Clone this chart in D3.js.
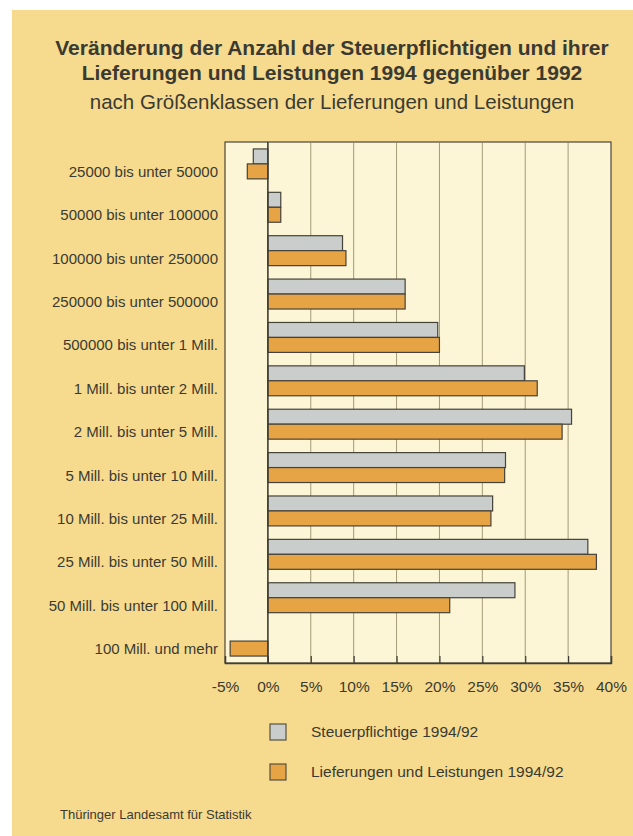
<!DOCTYPE html>
<html>
<head>
<meta charset="utf-8">
<script src="https://cdn.jsdelivr.net/npm/d3@7"></script>
<style>
  body { margin: 0; background: #fff; }
  svg { display: block; font-family: "Liberation Sans", Arial, sans-serif; }
</style>
</head>
<body>
<div id="chart"></div>
<script>
// size classes (top to bottom)
var classes = [
  "25000 bis unter 50000",
  "50000 bis unter 100000",
  "100000 bis unter 250000",
  "250000 bis unter 500000",
  "500000 bis unter 1 Mill.",
  "1 Mill. bis unter 2 Mill.",
  "2 Mill. bis unter 5 Mill.",
  "5 Mill. bis unter 10 Mill.",
  "10 Mill. bis unter 25 Mill.",
  "25 Mill. bis unter 50 Mill.",
  "50 Mill. bis unter 100 Mill.",
  "100 Mill. und mehr"
];
// change in percent, 1994 vs 1992
var steuerpflichtige = [-1.7, 1.5, 8.7, 16.0, 19.8, 29.9, 35.4, 27.7, 26.2, 37.3, 28.8, 0];
var lieferungen = [-2.4, 1.5, 9.1, 16.0, 20.0, 31.4, 34.3, 27.6, 26.0, 38.3, 21.2, -4.4];
var xTicks = [-5, 0, 5, 10, 15, 20, 25, 30, 35, 40];
var seriesNames = ["Steuerpflichtige 1994/92", "Lieferungen und Leistungen 1994/92"];

var colors = ["#c9cdcc", "#e6a444"];
var W = 633, H = 836;
var ink = "#3b3a32";

var svg = d3.select("#chart").append("svg")
  .attr("width", W).attr("height", H);

// scanned page background
svg.append("rect").attr("x", 0).attr("y", 0).attr("width", W).attr("height", H).attr("fill", "#fff");
svg.append("rect").attr("x", 12).attr("y", 10).attr("width", W - 12).attr("height", H - 10)
  .attr("fill", "#f6da8e");

// titles
svg.append("text").attr("x", 332).attr("y", 55).attr("text-anchor", "middle")
  .attr("font-size", 21).attr("font-weight", "bold").attr("fill", ink)
  .text("Veränderung der Anzahl der Steuerpflichtigen und ihrer");
svg.append("text").attr("x", 332).attr("y", 80).attr("text-anchor", "middle")
  .attr("font-size", 21).attr("font-weight", "bold").attr("fill", ink)
  .text("Lieferungen und Leistungen 1994 gegenüber 1992");
svg.append("text").attr("x", 332).attr("y", 109).attr("text-anchor", "middle")
  .attr("font-size", 20.5).attr("fill", ink)
  .text("nach Größenklassen der Lieferungen und Leistungen");

var plotLeft = 225, plotRight = 611, plotTop = 142, plotBottom = 663;

var x = d3.scaleLinear().domain([-5, 40]).range([plotLeft, plotRight]);
var y = d3.scaleBand().domain(classes).range([plotTop, plotBottom]).paddingInner(0.31).paddingOuter(0.16);
var sub = d3.scaleBand().domain([0, 1]).range([0, y.bandwidth()]);

// plot area
svg.append("rect").attr("x", plotLeft).attr("y", plotTop)
  .attr("width", plotRight - plotLeft).attr("height", plotBottom - plotTop)
  .attr("fill", "#fcf6d6").attr("stroke", "#4a473b").attr("stroke-width", 1.2);

// grid
svg.append("g").selectAll("line")
  .data(xTicks.filter(function(d) { return d > 0 && d < 40; }))
  .enter().append("line")
  .attr("x1", function(d) { return x(d); }).attr("x2", function(d) { return x(d); })
  .attr("y1", plotTop).attr("y2", plotBottom)
  .attr("stroke", "#8d8360").attr("stroke-width", 0.8);

// bars
var series = [steuerpflichtige, lieferungen];
series.forEach(function(vals, s) {
  svg.append("g").selectAll("rect")
    .data(vals.map(function(v, i) { return { c: classes[i], v: v }; }).filter(function(d) { return d.v !== 0; }))
    .enter().append("rect")
    .attr("x", function(d) { return x(Math.min(0, d.v)); })
    .attr("y", function(d) { return y(d.c) + sub(s); })
    .attr("width", function(d) { return Math.abs(x(d.v) - x(0)); })
    .attr("height", sub.bandwidth())
    .attr("fill", colors[s])
    .attr("stroke", "#45433a").attr("stroke-width", 1.2);
});

// zero line
svg.append("line").attr("x1", x(0)).attr("x2", x(0)).attr("y1", plotTop).attr("y2", plotBottom)
  .attr("stroke", "#3f3d34").attr("stroke-width", 1.6);

// x axis
var xAxis = svg.append("g").attr("transform", "translate(0," + plotBottom + ")")
  .call(d3.axisBottom(x).tickValues(xTicks).tickSize(-7).tickFormat(function(d) { return d + "%"; }));
xAxis.select(".domain").attr("stroke", "#3f3d34").attr("stroke-width", 1.4);
xAxis.selectAll(".tick line").attr("stroke", "#3f3d34").attr("stroke-width", 1.2);
xAxis.selectAll("text").attr("font-size", 15.5).attr("fill", ink).attr("dy", 0).attr("y", 29)
  .attr("font-family", "Liberation Sans, Arial, sans-serif");

// category labels
svg.append("g").selectAll("text")
  .data(classes).enter().append("text")
  .attr("x", 218)
  .attr("y", function(d) { return y(d) + y.bandwidth() / 2 + 13; })
  .attr("text-anchor", "end")
  .attr("font-size", 15).attr("fill", ink)
  .text(function(d) { return d; });

// legend
var legend = svg.append("g").selectAll("g").data(seriesNames).enter().append("g")
  .attr("transform", function(d, i) { return "translate(270," + (724 + i * 40) + ")"; });
legend.append("rect").attr("width", 16).attr("height", 16)
  .attr("fill", function(d, i) { return colors[i]; })
  .attr("stroke", "#55523f").attr("stroke-width", 1.2);
legend.append("text").attr("x", 41).attr("y", 13)
  .attr("font-size", 15.5).attr("fill", ink)
  .text(function(d) { return d; });

// source
svg.append("text").attr("x", 60).attr("y", 819)
  .attr("font-size", 13).attr("fill", ink)
  .text("Thüringer Landesamt für Statistik");
</script>
</body>
</html>
